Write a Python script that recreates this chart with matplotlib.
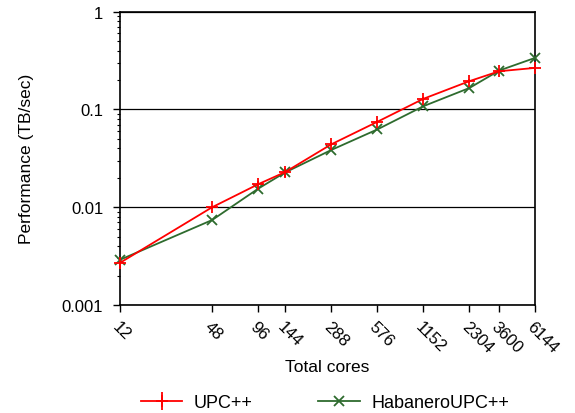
import matplotlib
matplotlib.use("Agg")
import matplotlib.pyplot as plt
from matplotlib.ticker import LogLocator, NullFormatter, FixedLocator, FixedFormatter

plt.rcParams['font.family'] = ['Liberation Sans', 'DejaVu Sans']

cores = [12, 48, 96, 144, 288, 576, 1152, 2304, 3600, 6144]
core_labels = ['12', '48', '96', '144', '288', '576', '1152', '2304', '3600', '6144']
upcxx = [0.0027, 0.0100, 0.0172, 0.0229, 0.0440, 0.0748, 0.1286, 0.195, 0.246, 0.266]
upcxx_err = [0.0002, 0.0003, 0.0015, 0.0025, 0.002, 0.004, 0.006, 0.008, 0.008, 0.006]
habanero = [0.0029, 0.0074, 0.0155, 0.0227, 0.0385, 0.0625, 0.108, 0.166, 0.250, 0.336]

fig = plt.figure(figsize=(5.75, 4.14), dpi=100)
ax = fig.add_axes([120/575, 1-306/414, (534.7-120)/575, (306-12.7)/414])

ax.set_xscale('log')
ax.set_yscale('log')

eb = ax.errorbar(cores, upcxx, yerr=upcxx_err, color='#ff0000', marker='+', markersize=8,
                 markeredgewidth=1.3, linewidth=1.3, elinewidth=1.3, capsize=0,
                 label='UPC++', clip_on=False, zorder=3)
ln, = ax.plot(cores, habanero, color='#2e6b2e', marker='x', markersize=7.5,
              markeredgewidth=1.3, linewidth=1.3, label='HabaneroUPC++', clip_on=False, zorder=3)

ax.set_xlim(12, 6144)
ax.set_ylim(0.001, 1)

ax.xaxis.set_major_locator(FixedLocator(cores))
ax.xaxis.set_major_formatter(FixedFormatter(core_labels))
ax.xaxis.set_minor_locator(FixedLocator([]))
ax.xaxis.set_minor_formatter(NullFormatter())

ax.set_yticks([0.001, 0.01, 0.1, 1])
ax.set_yticklabels(['0.001', '0.01', '0.1', '1'])
ax.yaxis.set_minor_locator(LogLocator(base=10, subs=range(2, 10), numticks=10))
ax.yaxis.set_minor_formatter(NullFormatter())

ax.grid(True, axis='y', which='major', color='black', linewidth=0.9)
ax.set_axisbelow(True)

ax.tick_params(axis='both', which='major', direction='out', length=5, width=1, labelsize=12, colors='black')
ax.tick_params(axis='y', which='major', pad=7)
ax.tick_params(axis='x', which='major', pad=4.5)
ax.tick_params(axis='y', which='minor', direction='out', length=2.5, width=0.8)
for lbl in ax.get_xticklabels():
    lbl.set_rotation(-45)
    lbl.set_ha('left')
    lbl.set_va('top')
    lbl.set_rotation_mode('anchor')

for s in ax.spines.values():
    s.set_linewidth(1.2)
    s.set_color('black')

ax.set_xlabel('Total cores', fontsize=12.5, labelpad=3)
ax.set_ylabel('Performance (TB/sec)', fontsize=12.5, labelpad=20)

fig.legend([eb, ln], ['UPC++', 'HabaneroUPC++'], loc='center', bbox_to_anchor=(325/575, 1-404/414), ncol=2,
           frameon=False, fontsize=13, handlelength=2.3, columnspacing=3.6, handletextpad=0.65)

fig.savefig('out.png', dpi=100)
